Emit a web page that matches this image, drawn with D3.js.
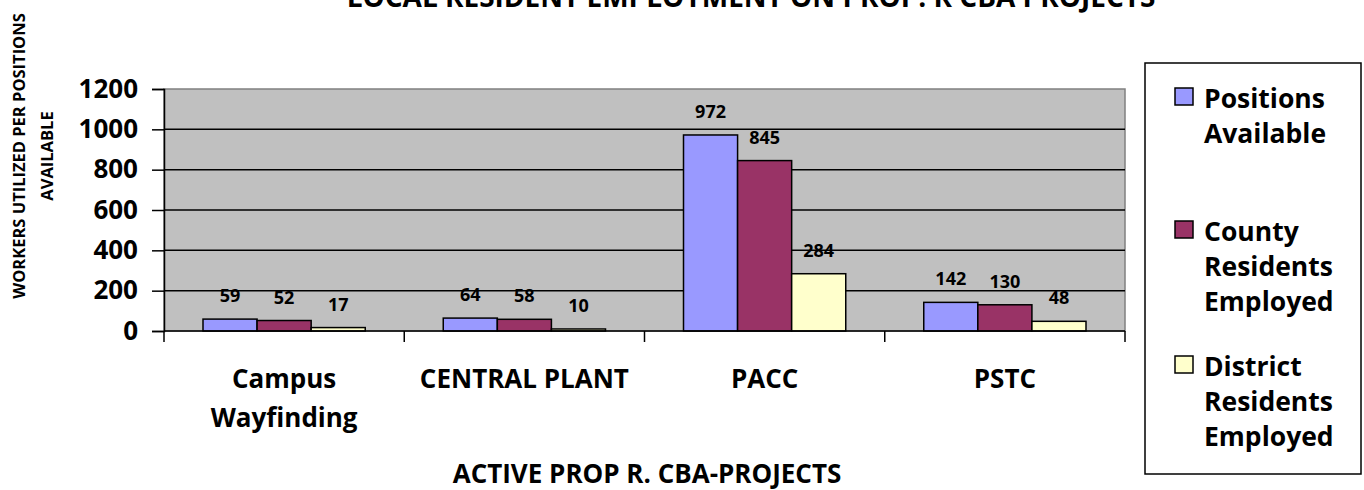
<!DOCTYPE html>
<html>
<head>
<meta charset="utf-8">
<script src="https://cdn.jsdelivr.net/npm/d3@7"></script>
<style>
  body { margin: 0; background: #fff; }
  svg { display: block; font-family: "Open Sans", Lato, sans-serif; font-weight: bold; }
</style>
</head>
<body>
<div id="chart"></div>
<script>
const projects = ["Campus Wayfinding", "CENTRAL PLANT", "PACC", "PSTC"];
const projectLines = [["Campus", "Wayfinding"], ["CENTRAL PLANT"], ["PACC"], ["PSTC"]];
const seriesNames = ["Positions Available", "County Residents Employed", "District Residents Employed"];
const legendLines = [["Positions", "Available"], ["County", "Residents", "Employed"], ["District", "Residents", "Employed"]];
const positionsAvailable = [59, 64, 972, 142];
const countyEmployed = [52, 58, 845, 130];
const districtEmployed = [17, 10, 284, 48];
const yTicks = [0, 200, 400, 600, 800, 1000, 1200];
const colors = ["#9999ff", "#993366", "#ffffcc"];

const width = 1364, height = 490;
const margin = {top: 89, right: 239, bottom: 159, left: 164};
const plotW = width - margin.left - margin.right,
    plotH = height - margin.top - margin.bottom;

const svg = d3.select("#chart").append("svg")
    .attr("width", width)
    .attr("height", height);

const g = svg.append("g")
    .attr("transform", "translate(" + margin.left + "," + margin.top + ")");

const x0 = d3.scaleBand().domain(projects).range([0, plotW]);
const x1 = d3.scaleBand().domain(seriesNames)
    .range([39, x0.bandwidth() - 39]);
const y = d3.scaleLinear().domain([0, 1200]).range([plotH, 0]);

// plot background
g.append("rect")
    .attr("width", plotW)
    .attr("height", plotH)
    .attr("fill", "#c0c0c0")
    .attr("stroke", "#808080")
    .attr("stroke-width", 1.5);

// gridlines
g.selectAll(".grid")
    .data(yTicks.slice(1, -1))
    .enter().append("line")
    .attr("x1", 0).attr("x2", plotW)
    .attr("y1", d => y(d)).attr("y2", d => y(d))
    .attr("stroke", "#000")
    .attr("stroke-width", 1.5);

const table = projects.map((p, i) => ({
    project: p,
    values: [positionsAvailable[i], countyEmployed[i], districtEmployed[i]]
}));

const groups = g.selectAll(".grp")
    .data(table)
    .enter().append("g")
    .attr("transform", d => "translate(" + x0(d.project) + ",0)");

groups.selectAll("rect")
    .data(d => d.values.map((v, k) => ({name: seriesNames[k], value: v, k: k})))
    .enter().append("rect")
    .attr("x", d => x1(d.name))
    .attr("y", d => y(d.value))
    .attr("width", x1.bandwidth())
    .attr("height", d => plotH - y(d.value))
    .attr("fill", d => colors[d.k])
    .attr("stroke", "#000")
    .attr("stroke-width", 1.5);

groups.selectAll(".val")
    .data(d => d.values.map((v, k) => ({name: seriesNames[k], value: v})))
    .enter().append("text")
    .attr("x", d => x1(d.name) + x1.bandwidth() / 2)
    .attr("y", d => y(d.value) - 17)
    .attr("text-anchor", "middle")
    .attr("font-size", 18)
    .text(d => d.value);

// axes
const yAxis = g.append("g")
    .call(d3.axisLeft(y).tickValues(yTicks).tickFormat(d3.format("d")).tickSize(12).tickPadding(14));
yAxis.select(".domain").attr("stroke-width", 1.5);
yAxis.selectAll(".tick line").attr("stroke-width", 1.5);
yAxis.selectAll("text")
    .attr("font-size", 26)
    .attr("font-family", "'Open Sans', sans-serif")
    .attr("font-weight", "bold")
    .attr("fill", "#000");

g.append("line")
    .attr("x1", 0).attr("x2", plotW)
    .attr("y1", plotH).attr("y2", plotH)
    .attr("stroke", "#000").attr("stroke-width", 1.5);

const tickXs = projects.map(p => x0(p)).concat([plotW]);
g.selectAll(".xtick")
    .data(tickXs)
    .enter().append("line")
    .attr("x1", d => d).attr("x2", d => d)
    .attr("y1", plotH).attr("y2", plotH + 11)
    .attr("stroke", "#000").attr("stroke-width", 1.5);

g.selectAll(".cat")
    .data(projects)
    .enter().append("text")
    .attr("text-anchor", "middle")
    .attr("font-size", 26)
    .each(function(d, i) {
        d3.select(this).selectAll("tspan")
            .data(projectLines[i])
            .enter().append("tspan")
            .attr("x", x0(d) + x0.bandwidth() / 2)
            .attr("y", (l, j) => plotH + 57 + j * 39)
            .text(l => l);
    });

// x axis title
svg.append("text")
    .attr("x", 647)
    .attr("y", 483)
    .attr("text-anchor", "middle")
    .attr("font-size", 26)
    .text("ACTIVE PROP R. CBA-PROJECTS");

// y axis title
const yt = svg.append("text")
    .attr("transform", "translate(25,156) rotate(-90)")
    .attr("text-anchor", "middle")
    .attr("font-size", 16.5);
yt.append("tspan").attr("x", 0).attr("y", 0).text("WORKERS UTILIZED PER POSITIONS");
yt.append("tspan").attr("x", 0).attr("y", 28).text("AVAILABLE");

// title (cut off at the top)
svg.append("text")
    .attr("x", 751)
    .attr("y", 7)
    .attr("text-anchor", "middle")
    .attr("font-size", 28)
    .text("LOCAL RESIDENT EMPLOYMENT ON PROP. R CBA PROJECTS");

// legend
const legend = svg.append("g").attr("transform", "translate(1145,63)");
legend.append("rect")
    .attr("width", 216)
    .attr("height", 411)
    .attr("fill", "#fff")
    .attr("stroke", "#000")
    .attr("stroke-width", 1.5);

const legendTops = [45, 178, 313];
const items = legend.selectAll(".item")
    .data(seriesNames)
    .enter().append("g")
    .attr("transform", (d, i) => "translate(30," + legendTops[i] + ")");

items.append("rect")
    .attr("x", 0).attr("y", -20)
    .attr("width", 18).attr("height", 17)
    .attr("fill", (d, i) => colors[i])
    .attr("stroke", "#000")
    .attr("stroke-width", 1.5);

items.append("text")
    .attr("font-size", 26.5)
    .each(function(d, i) {
        d3.select(this).selectAll("tspan")
            .data(legendLines[i])
            .enter().append("tspan")
            .attr("x", 29)
            .attr("y", (l, j) => j * 35)
            .text(l => l);
    });
</script>
</body>
</html>
